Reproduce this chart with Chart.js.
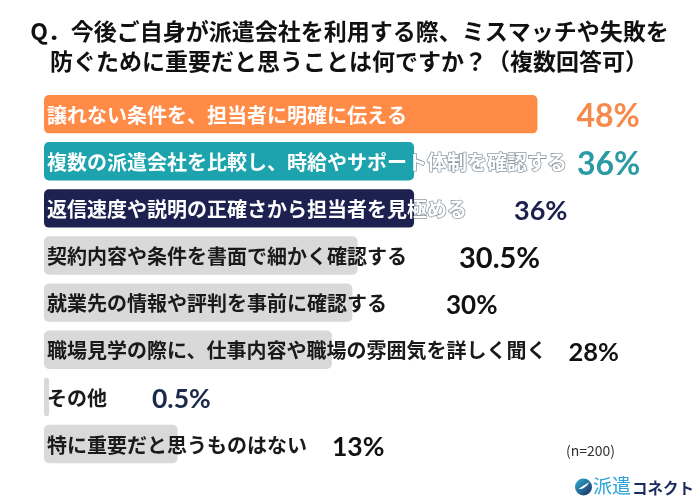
<!DOCTYPE html>
<html>
<head>
<meta charset="utf-8">
<script src="https://cdn.jsdelivr.net/npm/chart.js@4"></script>
<style>
  html, body { margin: 0; padding: 0; background: #ffffff; }
  #wrap { width: 700px; height: 500px; }
</style>
</head>
<body>
<div id="wrap"><canvas id="c" width="700" height="500"></canvas></div>
<script>
// ---- data ----
const titleLines = [
  'Q．今後ご自身が派遣会社を利用する際、ミスマッチや失敗を',
  '防ぐために重要だと思うことは何ですか？（複数回答可）'
];
const categories = [
  '譲れない条件を、担当者に明確に伝える',
  '複数の派遣会社を比較し、時給やサポート体制を確認する',
  '返信速度や説明の正確さから担当者を見極める',
  '契約内容や条件を書面で細かく確認する',
  '就業先の情報や評判を事前に確認する',
  '職場見学の際に、仕事内容や職場の雰囲気を詳しく聞く',
  'その他',
  '特に重要だと思うものはない'
];
const values = [48, 36, 36, 30.5, 30, 28, 0.5, 13];
const valueLabels = ['48%', '36%', '36%', '30.5%', '30%', '28%', '0.5%', '13%'];
const sampleNote = '(n=200)';

// ---- styles ----
const barColors = ['#FF8B47', '#1CA3AE', '#1C2150', '#D9D9D9', '#D9D9D9', '#D9D9D9', '#D9D9D9', '#D9D9D9'];
const onColored = [true, true, true, false, false, false, false, false];
const valueColors = ['#F58A4B', '#2A9AA5', '#1C2150', '#111111', '#111111', '#111111', '#1C2A4A', '#111111'];
const valueSizes = [32, 32, 27, 29, 26, 25.5, 26.5, 26.5];
const valueGaps = [39, 10, 47, 52, 59, 22, 45, 25];

const labelPlugin = {
  id: 'barLabels',
  beforeDraw(chart) {
    const ctx = chart.ctx;
    ctx.save();
    ctx.font = 'bold 23px "Noto Sans CJK JP"';
    ctx.fillStyle = '#111111';
    ctx.textAlign = 'center';
    ctx.textBaseline = 'middle';
    ctx.fillText(titleLines[0], 349.5, 31);
    ctx.fillText(titleLines[1], 349, 61);
    ctx.restore();
  },
  afterDatasetsDraw(chart) {
    const ctx = chart.ctx;
    const meta = chart.getDatasetMeta(0);
    meta.data.forEach((bar, i) => {
      const x0 = bar.base;
      const xEnd = bar.x;
      const y = bar.y;
      ctx.save();
      ctx.font = 'bold 20px "Noto Sans CJK JP"';
      ctx.textBaseline = 'middle';
      ctx.textAlign = 'left';
      const tx = x0 + 3;
      const tw = ctx.measureText(categories[i]).width;
      if (onColored[i]) {
        ctx.save();
        ctx.beginPath();
        ctx.rect(xEnd, 0, chart.width, chart.height);
        ctx.clip();
        ctx.strokeStyle = '#8E9CA6';
        ctx.lineWidth = 1.6;
        ctx.lineJoin = 'round';
        ctx.strokeText(categories[i], tx, y + 1);
        ctx.restore();
        ctx.fillStyle = '#FFFFFF';
      } else {
        ctx.fillStyle = '#1A1A1A';
      }
      ctx.fillText(categories[i], tx, y + 1);

      const vx = Math.max(xEnd, tx + tw) + valueGaps[i];
      ctx.font = 'bold ' + valueSizes[i] + 'px Lato';
      ctx.fillStyle = valueColors[i];
      ctx.fillText(valueLabels[i], vx, y + 3);
      ctx.restore();
    });
  },
  afterDraw(chart) {
    const ctx = chart.ctx;
    ctx.save();
    ctx.textBaseline = 'middle';
    ctx.textAlign = 'left';
    ctx.font = '14px "Noto Sans CJK JP"';
    ctx.fillStyle = '#333333';
    ctx.fillText(sampleNote, 566, 451);

    // logo
    const cx = 583.5, cy = 487, r = 8.5;
    const g = ctx.createLinearGradient(cx - r, cy - r, cx + r, cy + r);
    g.addColorStop(0, '#2BB3D6');
    g.addColorStop(1, '#1C2A5E');
    ctx.beginPath();
    ctx.arc(cx, cy, r, 0, Math.PI * 2);
    ctx.fillStyle = g;
    ctx.fill();
    ctx.beginPath();
    ctx.moveTo(cx - 5, cy + 2);
    ctx.quadraticCurveTo(cx - 1, cy - 1, cx + 6, cy - 5);
    ctx.quadraticCurveTo(cx + 1, cy + 3, cx - 5, cy + 2);
    ctx.fillStyle = '#FFFFFF';
    ctx.fill();

    ctx.font = '19px "Noto Sans CJK JP"';
    ctx.fillStyle = '#2AA3D8';
    ctx.fillText('派遣', 593, 486);
    const w = ctx.measureText('派遣').width;
    ctx.font = 'bold 15.5px "Noto Sans CJK JP"';
    ctx.fillStyle = '#1C2A5E';
    ctx.fillText('コネクト', 593 + w + 1, 488);
    ctx.restore();
  }
};

new Chart(document.getElementById('c'), {
  type: 'bar',
  data: {
    labels: categories,
    datasets: [{
      data: values,
      backgroundColor: barColors,
      borderRadius: 5,
      borderSkipped: false,
      barPercentage: 0.815,
      categoryPercentage: 1.0
    }]
  },
  options: {
    indexAxis: 'y',
    responsive: false,
    animation: false,
    devicePixelRatio: 1,
    layout: { padding: { left: 44, right: 39.2, top: 90.6, bottom: 32.4 } },
    scales: {
      x: { display: false, min: 0, max: 60 },
      y: { display: false }
    },
    plugins: {
      legend: { display: false },
      tooltip: { enabled: false },
      title: { display: false }
    }
  },
  plugins: [labelPlugin]
});
</script>
</body>
</html>
